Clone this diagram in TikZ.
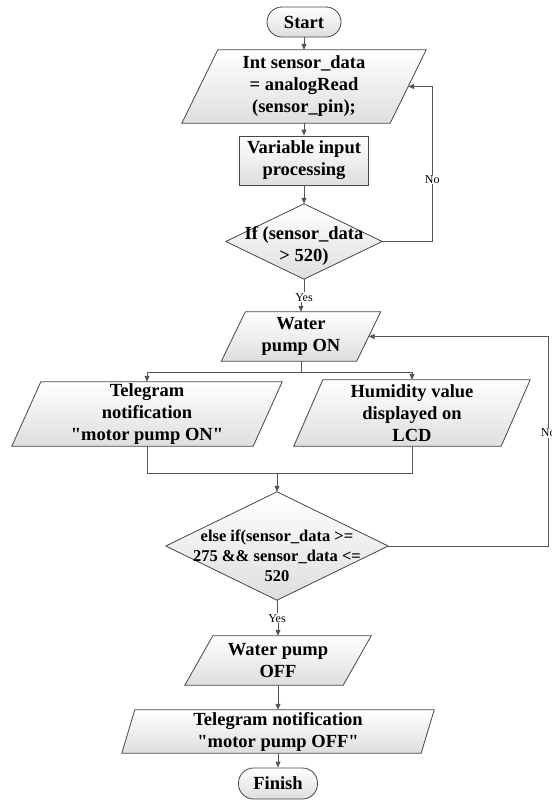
\documentclass[tikz,border=0pt]{standalone}
\usepackage{fontspec}
\setmainfont{Liberation Serif}[Ligatures=TeXOff]
\usetikzlibrary{arrows.meta,calc}
\pgfdeclarelayer{background}
\pgfsetlayers{background,main}
\definecolor{edgec}{RGB}{70,70,70}
\definecolor{linec}{RGB}{85,85,85}
\definecolor{fillb}{RGB}{222,222,222}
\tikzset{
  base/.style={inner sep=0pt, align=center, font=\bfseries\fontsize{18.5}{22}\selectfont},
  term/.style={base, draw=edgec, line width=0.8pt, rounded corners=15pt, top color=white, bottom color=fillb},
  procbox/.style={base, draw=edgec, line width=0.8pt, top color=white, bottom color=fillb},
  shapefill/.style={draw=edgec, line width=0.8pt, top color=white, bottom color=fillb},
  conn/.style={draw=linec, line width=0.8pt, -{Triangle[length=6pt,width=5pt]}},
  plain/.style={draw=linec, line width=0.8pt},
  lab/.style={font=\fontsize{12}{14}\selectfont, fill=white, inner sep=1pt},
  dectext/.style={inner sep=0pt, align=center, font=\bfseries\fontsize{16.5}{20}\selectfont},
}
\newcommand{\ioshape}[2]{%
  \begin{pgfonlayer}{background}
    \path[shapefill] ($(#1.north west)+(#2,0)$) -- ($(#1.north east)+(#2,0)$)
      -- ($(#1.south east)-(#2,0)$) -- ($(#1.south west)-(#2,0)$) -- cycle;
  \end{pgfonlayer}}
\newcommand{\decshape}[1]{%
  \begin{pgfonlayer}{background}
    \path[shapefill] (#1.north) -- (#1.east) -- (#1.south) -- (#1.west) -- cycle;
  \end{pgfonlayer}}
\begin{document}
\begin{tikzpicture}[x=1pt,y=-1pt]
\useasboundingbox (0,0) rectangle (551,802);

% nodes
\node[term, minimum width=74pt, minimum height=30pt] (start) at (304,22) {Start};

\node[base, minimum width=208pt, minimum height=73pt] (in1) at (304,86.5)
  {Int sensor\_data\\= analogRead\\(sensor\_pin);};
\ioshape{in1}{18}

\node[procbox, minimum width=129pt, minimum height=49pt] (proc) at (304,160.5)
  {Variable input\\processing};

\node[inner sep=0pt, minimum width=156pt, minimum height=75pt] (d1) at (304,241.5) {};
\decshape{d1}
\node[base] (d1t) at (304,246) {If (sensor\_data\\> 520)};

\node[base, minimum width=135pt, minimum height=49pt] (wpon) at (301,336.5)
  {Water\\pump ON};
\ioshape{wpon}{12}

\node[base, minimum width=241pt, minimum height=64pt] (tel1) at (147,414)
  {Telegram\\notification\\"motor pump ON"};
\ioshape{tel1}{14.5}

\node[base, minimum width=207pt, minimum height=66pt] (hum) at (412,413)
  {Humidity value\\displayed on\\LCD};
\ioshape{hum}{14.5}

\coordinate (m) at (277,473);

\node[inner sep=0pt, minimum width=222pt, minimum height=108pt] (d2) at (277,546) {};
\decshape{d2}
\node[dectext] (d2t) at (277,556) {else if(sensor\_data >=\\275 \&\& sensor\_data <=\\520};

\node[base, minimum width=158pt, minimum height=49pt] (wpoff) at (278,660.5)
  {Water pump\\OFF};
\ioshape{wpoff}{14}

\node[base, minimum width=299pt, minimum height=43pt] (tel2) at (278,731.5)
  {Telegram notification\\"motor pump OFF"};
\ioshape{tel2}{6.5}

\node[term, minimum width=79pt, minimum height=31pt] (finish) at (278,783.5) {Finish};

% connectors
\draw[conn] (start.south) -- (in1.north);
\draw[conn] (in1.south) -- (proc.north);
\draw[conn] (proc.south) -- (d1.north);
\draw[conn] (d1.east) -- ++(50,0) |- node[lab,pos=0.2] (no1) {No} (in1.east);
\draw[conn] (d1.south) -- ++(0,18) node[lab] (yes1) {Yes} -| (wpon.north);
\draw[conn] (wpon.south) -- ++(0,11) -| (tel1.north);
\draw[conn] (wpon.south) -- ++(0,11) -| (hum.north);
\draw[plain] (tel1.south) |- (m);
\draw[plain] (hum.south) |- (m);
\draw[conn] (m) -- (d2.north);
\draw[conn] (d2.east) -- ++(160,0) |- node[lab,pos=0.27] (no2) {No} (wpon.east);
\draw[conn] (d2.south) -- ++(0,18) node[lab] (yes2) {Yes} -| (wpoff.north);
\draw[conn] (wpoff.south) -- (tel2.north);
\draw[conn] (tel2.south) -- (finish.north);
\end{tikzpicture}
\end{document}
